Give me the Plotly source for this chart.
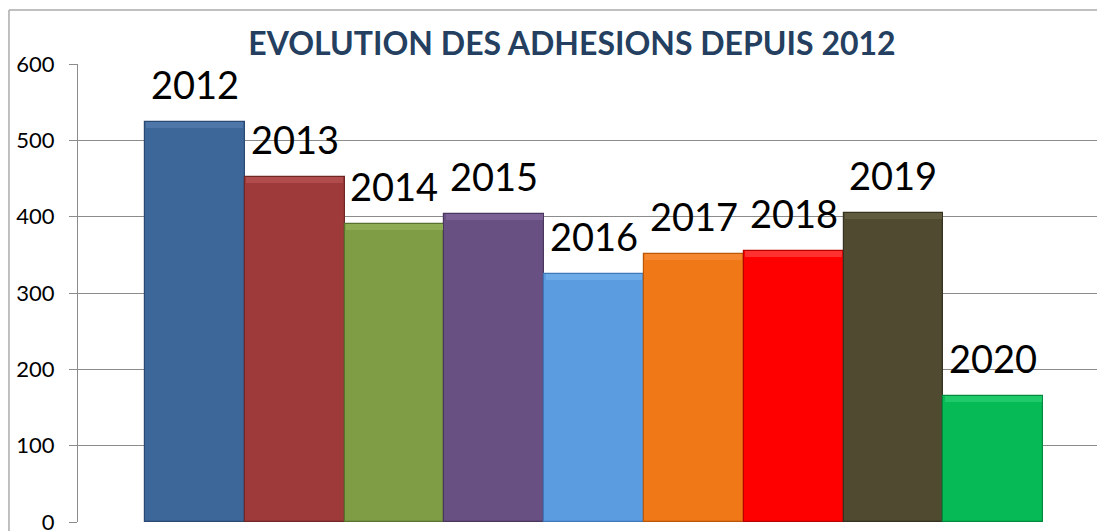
import plotly.graph_objects as go

years = ["2012", "2013", "2014", "2015", "2016", "2017", "2018", "2019", "2020"]
adhesions = [524, 452, 390, 403, 325, 351, 355, 405, 165]
colors = ["#3D6699", "#9E3B3A", "#7F9D45", "#695082", "#5B9BE0", "#F07817", "#FF0000", "#4F4A30", "#06BB56"]
top_colors = ["#4E76A8", "#B04D4C", "#8EAC54", "#7A6094", "#6DAAE8", "#F58730", "#FF3030", "#605B3E", "#20C96A"]
edge_colors = ["#2A4A73", "#6F2625", "#5A7230", "#4A375E", "#3F78B8", "#B85808", "#B80000", "#35321F", "#048A3E"]
y_ticks = [0, 100, 200, 300, 400, 500, 600]
bevel = 8  # thickness of the lighter top edge, in data units

idx = list(range(len(years)))

fig = go.Figure()
fig.add_trace(go.Bar(
    x=idx, y=adhesions,
    marker=dict(color=colors, line=dict(color=edge_colors, width=1.2)),
    customdata=years, hovertemplate="%{customdata}: %{y}<extra></extra>",
    showlegend=False,
))
fig.add_trace(go.Bar(
    x=idx, y=[bevel] * len(idx), base=[v - bevel for v in adhesions],
    width=0.97,
    marker=dict(color=top_colors, line=dict(width=0)),
    hoverinfo="skip", showlegend=False,
))

for i, yr, v in zip(idx, years, adhesions):
    fig.add_annotation(x=i, y=v, text=yr, showarrow=False, yanchor="bottom",
                       yshift=13, font=dict(family="Lato", size=38, color="#000000"))

fig.add_shape(type="line", xref="paper", yref="paper", x0=-0.0667, x1=1.2, y0=1.118, y1=1.118,
              line=dict(color="#ABABAB", width=1.5), layer="below")
fig.add_shape(type="line", xref="paper", yref="paper", x0=-0.0667, x1=-0.0667, y0=-0.2, y1=1.118,
              line=dict(color="#ABABAB", width=1.5), layer="below")

fig.update_layout(
    width=1105, height=531,
    margin=dict(l=70, r=0, t=56, b=17),
    paper_bgcolor="white", plot_bgcolor="white",
    bargap=0, barmode="overlay",
    title=dict(text="<b>EVOLUTION DES ADHESIONS DEPUIS 2012</b>", x=564/1105, xanchor="center",
               y=1 - 36/531, yanchor="middle",
               font=dict(family="Lato", size=32, color="#243F60")),
    xaxis=dict(range=[-1.171, 9.2], showticklabels=False, showgrid=False,
               zeroline=False, showline=False, ticks=""),
    yaxis=dict(range=[0, 600], tickvals=y_ticks, showgrid=True, gridcolor="#8C8C8C", gridwidth=1,
               zeroline=False, showline=True, linecolor="#8C8C8C", linewidth=1,
               ticks="outside", ticklen=8, tickcolor="#8C8C8C", ticklabelstandoff=10,
               tickfont=dict(family="Lato", size=22, color="#000000")),
)

fig.write_html("out.html")
